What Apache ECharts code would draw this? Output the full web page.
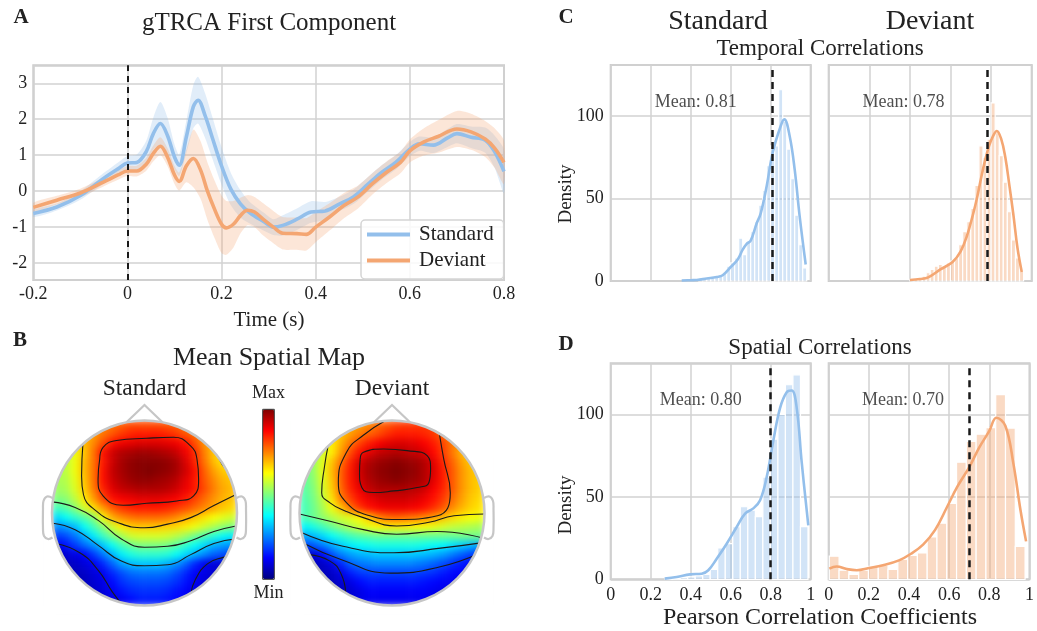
<!DOCTYPE html>
<html><head><meta charset="utf-8">
<script src="https://cdn.jsdelivr.net/npm/echarts@6/dist/echarts.min.js"></script>
<style>html,body{margin:0;padding:0;background:#fff}
#wrap{position:relative;width:1037px;height:631px}
#topo{position:absolute;left:0;top:0;width:1037px;height:631px;filter:blur(3.5px)}
#c{position:absolute;left:0;top:0;width:1037px;height:631px}</style>
</head><body><div id="wrap"><div id="topo"></div><div id="c"></div></div>
<script>
// ---------------- Panel A: gTRCA first component ----------------
const timeStd = [-0.2,-0.15,-0.1,-0.05,-0.02,0,0.02,0.04,0.055,0.07,0.085,0.1,0.11,0.125,0.14,0.15,0.165,0.18,0.2,0.22,0.24,0.26,0.29,0.31,0.33,0.36,0.39,0.42,0.45,0.48,0.51,0.54,0.57,0.6,0.62,0.65,0.68,0.7,0.73,0.76,0.78,0.8];
const meanStd = [-0.62,-0.44,-0.12,0.36,0.62,0.78,0.8,1.1,1.6,1.88,1.55,0.95,0.72,1.5,2.35,2.53,2.1,1.5,0.7,0.05,-0.35,-0.6,-0.85,-1.0,-0.95,-0.78,-0.58,-0.55,-0.36,-0.16,0.18,0.52,0.8,1.17,1.32,1.28,1.48,1.6,1.5,1.42,1.1,0.55];
const semStd  = [0.1,0.1,0.12,0.15,0.18,0.2,0.22,0.3,0.45,0.6,0.5,0.35,0.3,0.45,0.6,0.65,0.62,0.58,0.52,0.45,0.38,0.3,0.25,0.22,0.28,0.3,0.3,0.25,0.2,0.2,0.2,0.2,0.2,0.2,0.2,0.22,0.25,0.27,0.3,0.35,0.45,0.6];
const timeDev = [-0.2,-0.15,-0.1,-0.05,-0.02,0,0.02,0.04,0.055,0.07,0.085,0.1,0.11,0.125,0.14,0.155,0.17,0.185,0.2,0.21,0.225,0.24,0.255,0.27,0.29,0.31,0.33,0.36,0.38,0.4,0.43,0.46,0.49,0.52,0.55,0.58,0.6,0.63,0.66,0.7,0.73,0.76,0.78,0.8];
const meanDev = [-0.45,-0.25,-0.05,0.26,0.45,0.56,0.56,0.75,1.05,1.25,0.95,0.45,0.27,0.7,0.91,0.6,0.0,-0.5,-0.92,-1.02,-0.92,-0.68,-0.53,-0.58,-0.8,-1.0,-1.17,-1.18,-1.2,-1.0,-0.71,-0.4,-0.16,0.2,0.52,0.8,1.12,1.37,1.52,1.73,1.65,1.45,1.2,0.8];
const semDev  = [0.12,0.12,0.12,0.12,0.13,0.14,0.15,0.18,0.22,0.25,0.25,0.25,0.25,0.45,0.8,0.8,0.8,0.8,0.8,0.75,0.65,0.5,0.42,0.42,0.45,0.45,0.45,0.45,0.45,0.42,0.38,0.35,0.32,0.3,0.3,0.3,0.32,0.38,0.45,0.5,0.5,0.5,0.55,0.6];

// ---------------- Panel C/D: histograms + KDE ----------------
const tempStdBinStart = 0.44, tempStdBinWidth = 0.02;
const tempStdHist = [1,1,2,2,3,4,5,9,11,14,26,16,24,30,36,46,55,70,82,82,116,97,80,62,40,22,8];
const tempStdKdeX = [0.355,0.4,0.43,0.48,0.53,0.56,0.6,0.635,0.66,0.68,0.7,0.73,0.75,0.78,0.81,0.85,0.868,0.895,0.92,0.945,0.975];
const tempStdKdeY = [0.3,0.5,0.6,1.5,2.4,3.5,8.5,13,19,22.5,24.5,35,41,57.6,77.9,94,98,87.8,67.5,39,10];
const tempDevBinStart = 0.40, tempDevBinWidth = 0.02;
const tempDevHist = [1,1,2,3,5,7,9,10,9,11,12,14,22,30,36,44,58,82,75,86,108,90,76,60,42,25,14,6];
const tempDevKdeX = [0.4,0.45,0.49,0.55,0.61,0.65,0.68,0.71,0.73,0.75,0.77,0.79,0.81,0.828,0.85,0.87,0.89,0.91,0.93,0.951];
const tempDevKdeY = [0.6,1.2,2.2,7,11.5,18,27,40,50,62,73,82,88,91,86,75,58,40,20,5.5];
const spatStdBinStart = 0.272, spatStdBinWidth = 0.0376;
const spatStdHist = [0.5,0.5,1,1.5,2,3,6,19,21.6,32,44,42,38,62,85,100,118,124,32];
const spatStdKdeX = [0.27,0.33,0.397,0.455,0.488,0.53,0.58,0.63,0.672,0.713,0.747,0.78,0.813,0.847,0.88,0.905,0.93,0.955,0.988];
const spatStdKdeY = [0.4,1.4,3,3.4,5.5,12.5,21.6,31.7,39.8,43,48,62,84,104,113.5,114.5,104,71,32.7];
const spatDevBinStart = 0.003, spatDevBinWidth = 0.04875;
const spatDevHist = [14,5.5,3,5.5,7.9,8.5,6,12,14.5,16,25.7,34,46,71,83.6,88,92,112,91.7,20];
const spatDevKdeX = [0.003,0.04,0.09,0.14,0.2,0.27,0.35,0.41,0.47,0.53,0.59,0.64,0.7,0.75,0.8,0.835,0.88,0.92,0.955,0.983];
const spatDevKdeY = [6.5,7.8,6.2,5.5,6.8,8.5,11.5,15.5,21,30,44,56,68,80,90,98,93,70,42,23];
const meanValues = [0.813, 0.776, 0.804, 0.698];      // tempStd, tempDev, spatStd, spatDev
const meanLabelX = [0.425, 0.368, 0.45, 0.37];
const meanLabelY = 108.5;

// ---------------- Panel B: mean spatial maps (20x20, top row first, 0=min 100=max) ----------------
const stdMap = [
[66,66,68,70,72,74,76,78,80,80,80,80,79,78,76,74,72,70,68,66],
[62,63,65,68,72,76,79,82,84,85,85,85,84,82,79,76,72,70,68,66],
[58,60,64,69,74,80,86,89,90,91,91,91,90,89,86,80,73,69,66,64],
[56,57,61,68,76,86,92,95,96,97,97,96,95,93,89,83,75,68,64,62],
[55,56,61,69,76,85,92,96,98,99,99,99,98,96,91,84,76,69,65,63],
[55,56,61,69,76,86,93,96,98,99,100,99,98,96,92,86,78,72,68,66],
[54,55,60,68,76,86,92,95,97,98,98,97,96,94,90,85,79,74,70,68],
[53,54,59,67,75,84,90,93,94,95,95,95,94,92,89,85,80,75,71,69],
[50,51,56,64,72,80,86,88,89,90,90,90,89,88,85,81,77,73,70,68],
[44,46,51,58,65,72,78,82,84,85,85,85,84,82,80,77,74,71,68,66],
[34,38,42,46,51,62,70,74,76,77,77,77,76,74,71,68,65,62,60,58],
[26,28,31,38,44,51,58,64,67,68,68,68,67,66,64,61,58,55,52,50],
[18,20,24,30,36,43,49,54,58,59,59,59,58,56,53,49,45,41,38,36],
[11,14,18,23,27,32,38,44,48,50,50,50,49,46,42,38,34,30,28,27],
[7,8,10,12,18,24,30,36,40,42,42,42,41,38,34,30,26,22,20,19],
[5,6,7,9,11,16,22,28,31,32,32,32,30,27,22,16,11,9,8,8],
[4,5,6,7,9,11,16,20,23,24,24,24,23,20,16,12,10,8,8,8],
[4,4,5,6,8,10,13,17,19,20,20,20,19,17,14,11,9,8,8,8],
[4,4,4,5,7,9,11,14,16,17,17,17,16,14,12,10,9,8,8,8],
[4,4,4,5,6,8,10,11,13,15,15,15,14,13,11,10,9,8,8,8]];
const devMap = [
[58,60,62,65,68,70,72,74,77,79,81,82,82,82,81,78,74,70,66,64],
[54,56,60,64,68,72,75,78,80,83,85,85,85,84,82,78,73,69,66,64],
[50,54,58,64,70,76,81,85,88,90,91,91,90,88,85,81,76,71,67,65],
[48,52,58,64,72,80,86,90,93,94,95,94,93,91,87,82,76,70,66,64],
[48,52,60,68,76,84,91,95,97,98,99,98,97,95,90,84,78,72,68,66],
[48,52,60,69,78,85,92,96,98,99,100,99,98,95,91,85,79,73,69,67],
[47,51,59,68,78,85,91,95,97,98,99,98,97,95,90,85,79,73,69,67],
[46,50,58,67,77,84,89,93,95,95,95,95,94,92,88,84,79,73,69,67],
[45,49,56,65,75,81,86,89,91,92,92,92,91,89,86,82,77,72,68,66],
[44,48,54,61,68,76,82,86,88,89,89,89,88,86,83,79,74,70,67,65],
[45,48,52,55,58,60,63,68,74,77,78,77,76,74,72,69,66,64,62,61],
[37,40,44,48,52,55,58,61,63,64,64,64,63,62,61,59,57,56,55,54],
[29,31,34,38,41,44,46,47,48,48,48,48,48,48,48,48,48,49,49,49],
[19,21,25,29,33,36,38,39,40,40,40,40,40,39,38,37,35,33,31,29],
[7,8,13,20,25,28,30,31,32,32,32,32,32,31,30,28,25,22,19,17],
[5,6,7,10,16,22,24,25,26,26,26,26,25,24,22,20,17,15,13,12],
[4,5,6,7,10,15,18,19,19,19,19,19,19,18,17,15,13,12,11,10],
[3,4,5,6,8,10,13,15,15,15,15,15,15,14,13,12,11,10,10,10],
[3,3,4,5,6,8,10,12,12,12,12,12,12,12,11,10,10,9,9,9],
[3,3,4,5,6,8,10,11,11,11,11,11,11,11,10,10,9,9,9,9]];
// contour lines in head coordinates (x right, y up, radius 1)
const stdContours = [
 [[-0.484,0.584],[-0.448,0.71],[-0.302,0.783],[0.024,0.808],[0.313,0.819],[0.495,0.728],[0.567,0.584],[0.585,0.366],[0.531,0.185],[0.35,0.13],[0.024,0.105],[-0.23,0.084],[-0.448,0.185],[-0.502,0.366],[-0.484,0.584]],
 [[-0.665,0.76],[-0.68,0.4],[-0.66,0.2],[-0.52,0.02],[-0.3,-0.1],[0,-0.16],[0.25,-0.12],[0.5,-0.05],[0.75,0.08],[0.99,0.2]],
 [[0.78,0.63],[0.82,0.56],[0.86,0.5],[0.97,0.42]],
 [[-1.0,0.12],[-0.75,0.06],[-0.5,-0.08],[-0.25,-0.28],[0,-0.37],[0.25,-0.36],[0.5,-0.3],[0.75,-0.2],[0.99,-0.14]],
 [[-0.99,-0.11],[-0.75,-0.18],[-0.5,-0.35],[-0.25,-0.52],[0,-0.57],[0.25,-0.56],[0.5,-0.45],[0.75,-0.33],[0.99,-0.28]],
 [[-0.96,-0.33],[-0.7,-0.43],[-0.5,-0.62],[-0.35,-0.85],[-0.24,-0.99]],
 [[0.5,-0.88],[0.55,-0.72],[0.68,-0.55],[0.85,-0.48],[0.99,-0.46]]];
const devContours = [
 [[-0.344,0.583],[-0.308,0.656],[-0.09,0.692],[0.163,0.674],[0.38,0.62],[0.417,0.475],[0.399,0.33],[0.272,0.275],[0.018,0.239],[-0.199,0.221],[-0.326,0.275],[-0.351,0.438],[-0.344,0.583]],
 [[-0.07,1.0],[-0.31,0.84],[-0.49,0.66],[-0.58,0.33],[-0.49,0.11],[-0.24,-0.03],[0.05,-0.07],[0.49,-0.03],[0.63,0.22],[0.56,0.58],[0.51,0.87],[0.49,1.0]],
 [[-0.69,0.73],[-0.73,0.5],[-0.76,0.22],[-0.67,0.11],[-0.5,0.02],[-0.31,-0.05],[0.05,-0.14],[0.4,-0.1],[0.67,-0.03],[1.0,-0.01]],
 [[-1.0,-0.01],[-0.67,-0.09],[-0.31,-0.18],[0.05,-0.23],[0.49,-0.2],[0.98,-0.27]],
 [[-0.98,-0.21],[-0.53,-0.36],[0.02,-0.43],[0.525,-0.38],[0.98,-0.32]],
 [[-0.95,-0.33],[-0.56,-0.5],[-0.02,-0.65],[0.49,-0.59],[0.96,-0.43]],
 [[-0.9,-0.45],[-0.67,-0.52],[-0.55,-0.66],[-0.5,-0.87]]];

// ---------------- style / layout ----------------
const FONT = '"Liberation Serif","Times New Roman",serif';
const STD = '#93bfeb', DEV = '#f4a672';
const STD_FILL = 'rgba(147,191,235,0.28)', DEV_FILL = 'rgba(244,166,114,0.28)';
const STD_BAR = 'rgba(147,191,235,0.42)', DEV_BAR = 'rgba(244,166,114,0.42)';
const GRIDC = '#d2d2d2', TXT = '#222';
const JET = ['#00007f','#0000ff','#007fff','#00ffff','#7fff7f','#ffff00','#ff7f00','#ff0000','#7f0000'];
const HEADS = [{cx:144.5, cy:513, r:92.5},{cx:392, cy:513, r:92.5}];
const HMAX = 131;

const headGrids = HEADS.map(h=>({left:h.cx-h.r, top:h.cy-h.r, width:2*h.r, height:2*h.r, show:false}));

// ---------- topomap colour fields (separate layer, softened) ----------
const topo = echarts.init(document.getElementById('topo'), null, {renderer:'canvas'});
function heatSeries(gi, map){
  const d=[];
  map.forEach((row,r)=>row.forEach((v,c)=>d.push([c,r,v])));
  return {type:'heatmap', xAxisIndex:gi, yAxisIndex:gi, data:d, silent:true, itemStyle:{borderWidth:0}, emphasis:{disabled:true}, progressive:0};
}
topo.setOption({
  animation:false,
  grid: headGrids,
  xAxis: [stdMap, devMap].map((m,i)=>({gridIndex:i, type:'category', data:m[0].map((_,k)=>k), show:false})),
  yAxis: [stdMap, devMap].map((m,i)=>({gridIndex:i, type:'category', data:m.map((_,k)=>k), inverse:true, show:false})),
  visualMap: [{type:'continuous', min:0, max:100, seriesIndex:[0,1], inRange:{color:JET}, show:false}],
  series: [heatSeries(0, stdMap), heatSeries(1, devMap)]
});

// ---------- main chart ----------
const chart = echarts.init(document.getElementById('c'), null, {renderer:'canvas'});

const grids = [
  {left:33.3, top:65.3, width:470.7, height:214.7},
  {left:610.7, top:65, width:200, height:216},
  {left:828.7, top:65, width:203, height:216},
  {left:610.7, top:363.3, width:200, height:216},
  {left:828.7, top:363.3, width:203, height:216}
].map(g=>Object.assign(g, {show:true, borderColor:'#cbcbcb', borderWidth:2, backgroundColor:'#fff'})).concat(headGrids);

const lab = {fontFamily:FONT, fontSize:18, color:TXT};
const split = {show:true, lineStyle:{color:GRIDC, width:1.5}};
const intFmt = v => Math.abs(v-Math.round(v))<1e-6 ? String(Math.round(v)) : '';
const histYFmt = v => (v % 50 === 0) ? String(v) : '';

const xAxes = [
  {gridIndex:0, type:'value', min:-0.2, max:0.8, interval:0.2, axisLine:{show:false}, axisTick:{show:false}, splitLine:split, axisLabel:Object.assign({margin:5}, lab)},
  {gridIndex:1, type:'value', min:0, max:1, interval:0.2, axisLine:{show:false}, axisTick:{show:false}, splitLine:split, axisLabel:{show:false}},
  {gridIndex:2, type:'value', min:0, max:1, interval:0.2, axisLine:{show:false}, axisTick:{show:false}, splitLine:split, axisLabel:{show:false}},
  {gridIndex:3, type:'value', min:0, max:1, interval:0.2, axisLine:{show:false}, axisTick:{show:false}, splitLine:split, axisLabel:Object.assign({margin:7}, lab)},
  {gridIndex:4, type:'value', min:0, max:1, interval:0.2, axisLine:{show:false}, axisTick:{show:false}, splitLine:split, axisLabel:Object.assign({margin:7}, lab)},
  {gridIndex:5, type:'value', min:-1, max:1, show:false},
  {gridIndex:6, type:'value', min:-1, max:1, show:false}
];
const yAxes = [
  {gridIndex:0, type:'value', min:-2.47, max:3.5, splitNumber:6, axisLine:{show:false}, axisTick:{show:false}, splitLine:split, axisLabel:Object.assign({margin:6, formatter:intFmt}, lab)},
  {gridIndex:1, type:'value', min:0, max:HMAX, interval:50, axisLine:{show:false}, axisTick:{show:false}, splitLine:split, axisLabel:Object.assign({margin:7, formatter:histYFmt}, lab)},
  {gridIndex:2, type:'value', min:0, max:HMAX, interval:50, axisLine:{show:false}, axisTick:{show:false}, splitLine:split, axisLabel:{show:false}},
  {gridIndex:3, type:'value', min:0, max:HMAX, interval:50, axisLine:{show:false}, axisTick:{show:false}, splitLine:split, axisLabel:Object.assign({margin:7, formatter:histYFmt}, lab)},
  {gridIndex:4, type:'value', min:0, max:HMAX, interval:50, axisLine:{show:false}, axisTick:{show:false}, splitLine:split, axisLabel:{show:false}},
  {gridIndex:5, type:'value', min:-1, max:1, show:false},
  {gridIndex:6, type:'value', min:-1, max:1, show:false}
];

function meanLine(v){
  return {silent:true, symbol:'none', label:{show:false}, lineStyle:{color:'#1a1a1a', type:[7,5], width:2.5}, data:[{xAxis:v}]};
}
function bandSeries(t, m, s, fill){
  return {type:'custom', xAxisIndex:0, yAxisIndex:0, silent:true, z:2, clip:true,
    data: t.map((x,i)=>[x, m[i]-s[i], m[i]+s[i]]), encode:{x:0, y:[1,2]},
    renderItem:(params, api)=>{
      if (params.dataIndex !== 0) return null;
      const up=[], lo=[];
      for (let i=0;i<t.length;i++){ up.push(api.coord([t[i], m[i]+s[i]])); lo.push(api.coord([t[i], m[i]-s[i]])); }
      return {type:'polygon', shape:{points: up.concat(lo.reverse()), smooth:0.25}, style:{fill:fill, stroke:null}};
    }};
}
function barSeries(gi, start, bw, heights, fill){
  return {type:'custom', xAxisIndex:gi, yAxisIndex:gi, silent:true, z:2,
    data: heights.map((h,i)=>[start + bw*(i+0.5), h]), encode:{x:0, y:1},
    renderItem:(params, api)=>{
      const c=api.value(0), h=api.value(1);
      const a=api.coord([c-bw/2, h]), b=api.coord([c+bw/2, 0]);
      return {type:'rect', shape:{x:a[0], y:a[1], width:b[0]-a[0], height:b[1]-a[1]}, style:{fill:fill, stroke:'#fff', lineWidth:1.2}};
    }};
}
function kdeSeries(gi, xs, ys, color, mean){
  return {type:'line', name:'kde'+gi, xAxisIndex:gi, yAxisIndex:gi, data: xs.map((x,i)=>[x, ys[i]]), smooth:0.4, symbol:'none', silent:true, z:4,
    lineStyle:{color:color, width:2.6}, itemStyle:{color:color}, markLine: meanLine(mean)};
}
function meanText(gi, k){
  return {type:'scatter', xAxisIndex:gi, yAxisIndex:gi, silent:true, z:6, symbolSize:1, itemStyle:{color:'transparent'},
    data:[[meanLabelX[k], meanLabelY]], label:{show:true, position:'inside', formatter:'Mean: '+meanValues[k].toFixed(2), fontFamily:FONT, fontSize:18, color:TXT}};
}
function contourSeries(ai, lines){
  return lines.map(pts=>({type:'line', xAxisIndex:ai, yAxisIndex:ai, data:pts, smooth:0.5, symbol:'none', silent:true, z:3, lineStyle:{color:'#1a1a1a', width:1.1}}));
}

const series = [
  {type:'line', name:'Standard', xAxisIndex:0, yAxisIndex:0, data: timeStd.map((t,i)=>[t, meanStd[i]]), smooth:0.35, symbol:'none', z:4,
    lineStyle:{color:STD, width:3.6}, itemStyle:{color:STD}, markLine: {silent:true, symbol:'none', label:{show:false}, lineStyle:{color:'#1a1a1a', type:[6,5], width:2}, data:[{xAxis:0}]}},
  {type:'line', name:'Deviant', xAxisIndex:0, yAxisIndex:0, data: timeDev.map((t,i)=>[t, meanDev[i]]), smooth:0.35, symbol:'none', z:4,
    lineStyle:{color:DEV, width:3.6}, itemStyle:{color:DEV}},
  bandSeries(timeStd, meanStd, semStd, STD_FILL),
  bandSeries(timeDev, meanDev, semDev, DEV_FILL),
  barSeries(1, tempStdBinStart, tempStdBinWidth, tempStdHist, STD_BAR),
  kdeSeries(1, tempStdKdeX, tempStdKdeY, STD, meanValues[0]),
  barSeries(2, tempDevBinStart, tempDevBinWidth, tempDevHist, DEV_BAR),
  kdeSeries(2, tempDevKdeX, tempDevKdeY, DEV, meanValues[1]),
  barSeries(3, spatStdBinStart, spatStdBinWidth, spatStdHist, STD_BAR),
  kdeSeries(3, spatStdKdeX, spatStdKdeY, STD, meanValues[2]),
  barSeries(4, spatDevBinStart, spatDevBinWidth, spatDevHist, DEV_BAR),
  kdeSeries(4, spatDevKdeX, spatDevKdeY, DEV, meanValues[3]),
  // colour-scale carrier for the colour bar (no marks)
  {type:'scatter', xAxisIndex:5, yAxisIndex:5, data:[], silent:true},
  meanText(1,0), meanText(2,1), meanText(3,2), meanText(4,3)
].concat(contourSeries(5, stdContours), contourSeries(6, devContours));

// ---------------- decorations (text, head outline, mask) ----------------
function txt(x, y, s, size, extra){
  extra = extra || {};
  return {type:'text', x:x, y:y, z:120, rotation: extra.rot || 0, silent:true,
    style:{text:s, fontFamily:FONT, fontSize:size, fontWeight: extra.bold ? 'bold' : 'normal', fill:TXT,
      textAlign:'center', align:'center', textVerticalAlign:'middle', verticalAlign:'middle'}};
}
const graphics = [
  txt(21, 18, 'A', 21, {bold:true}), txt(20, 341, 'B', 21, {bold:true}),
  txt(566, 18, 'C', 21, {bold:true}), txt(566, 345, 'D', 21, {bold:true}),
  txt(269, 23, 'gTRCA First Component', 25),
  txt(269, 320, 'Time (s)', 21),
  txt(269, 358, 'Mean Spatial Map', 26),
  txt(HEADS[0].cx, 389, 'Standard', 23.5), txt(HEADS[1].cx, 389, 'Deviant', 23.5),
  txt(268.5, 393, 'Max', 18), txt(268.5, 593, 'Min', 18),
  txt(718, 22, 'Standard', 28), txt(930, 22, 'Deviant', 28),
  txt(820, 49, 'Temporal Correlations', 23), txt(820, 348, 'Spatial Correlations', 23),
  txt(820, 618, 'Pearson Correlation Coefficients', 24),
  txt(566, 194, 'Density', 19, {rot:Math.PI/2}), txt(566, 505, 'Density', 19, {rot:Math.PI/2}),
  {type:'rect', z:120, silent:true, shape:{x:262.7, y:409.3, width:11.6, height:170}, style:{fill:null, stroke:'#333', lineWidth:1}}
];
HEADS.forEach(h=>{
  const S = h.r + 8, N = 24, EXT = 8;
  // white corners outside the head circle
  [[Math.PI, 1.5*Math.PI, -1, -1],[1.5*Math.PI, 2*Math.PI, 1, -1],[0, 0.5*Math.PI, 1, 1],[0.5*Math.PI, Math.PI, -1, 1]].forEach(q=>{
    const pts=[];
    for (let k=0;k<=N;k++){ const a=q[0]+(q[1]-q[0])*k/N; pts.push([h.cx+h.r*Math.cos(a), h.cy+h.r*Math.sin(a)]); }
    const corner=[h.cx+q[2]*S, h.cy+q[3]*S];
    const p0=pts[0], p1=pts[pts.length-1];
    const e0=[p0[0]+(p0[0]-h.cx)/h.r*EXT, p0[1]+(p0[1]-h.cy)/h.r*EXT];
    const e1=[p1[0]+(p1[0]-h.cx)/h.r*EXT, p1[1]+(p1[1]-h.cy)/h.r*EXT];
    graphics.push({type:'polygon', z:100, silent:true, shape:{points:[e0].concat(pts,[e1, corner])}, style:{fill:'#fff', stroke:'#fff', lineWidth:1}});
  });
  graphics.push({type:'circle', z:105, silent:true, shape:{cx:h.cx, cy:h.cy, r:h.r}, style:{fill:null, stroke:'#c6c6c6', lineWidth:2.5}});
  const nb = Math.sqrt(h.r*h.r-18*18);
  graphics.push({type:'polyline', z:105, silent:true, shape:{points:[[h.cx-18, h.cy-nb],[h.cx, h.cy-h.r-15.5],[h.cx+18, h.cy-nb]]}, style:{fill:null, stroke:'#c6c6c6', lineWidth:2.2}});
  [-1,1].forEach(sd=>{
    const ex = h.cx + sd*h.r;
    graphics.push({type:'polyline', z:105, silent:true, shape:{smooth:0.4, points:[[ex-sd*0.5, h.cy-15],[ex+sd*5, h.cy-16.5],[ex+sd*8.5, h.cy-12],[ex+sd*9, h.cy-4],[ex+sd*9, h.cy+16],[ex+sd*8, h.cy+23],[ex+sd*4, h.cy+26],[ex-sd*0.5, h.cy+24.5]]}, style:{fill:null, stroke:'#c6c6c6', lineWidth:2.2}});
  });
});

chart.setOption({
  animation:false,
  backgroundColor:'transparent',
  textStyle:{fontFamily:FONT},
  grid: grids,
  xAxis: xAxes,
  yAxis: yAxes,
  legend: {data:['Standard','Deviant'], left:361, top:220, orient:'vertical', icon:'rect', itemWidth:43, itemHeight:4, itemGap:1,
    padding:[2,10,6,6], borderColor:'#d5d5d5', borderWidth:1.5, borderRadius:4, backgroundColor:'rgba(255,255,255,0.85)', selectedMode:false,
    textStyle:{fontFamily:FONT, fontSize:21, color:TXT, padding:[0,0,0,4], lineHeight:25}},
  visualMap: [{type:'continuous', min:0, max:100, seriesIndex:[12], inRange:{color:JET}, orient:'vertical',
    left:262.7, top:409.3, itemWidth:11.6, itemHeight:170, padding:0, calculable:false, hoverLink:false, text:null, z:110}],
  graphic: {elements: graphics},
  series: series
});
</script></body></html>
